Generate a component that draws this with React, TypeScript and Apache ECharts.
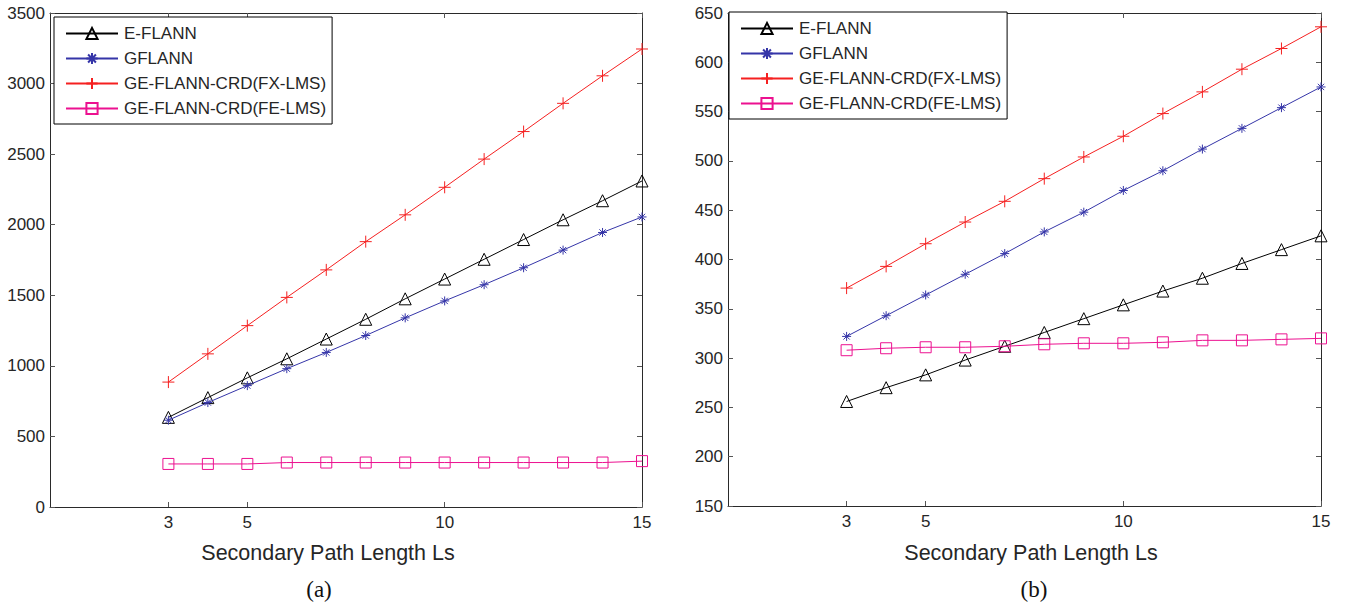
import React, { useEffect, useRef } from "react";
import * as echarts from "echarts";

const xValues = [3, 4, 5, 6, 7, 8, 9, 10, 11, 12, 13, 14, 15];
const xTicks = [3, 5, 10, 15];

const seriesNames = ["E-FLANN", "GFLANN", "GE-FLANN-CRD(FX-LMS)", "GE-FLANN-CRD(FE-LMS)"];

// Panel (a)
const aEFLANN = [635, 775, 915, 1050, 1190, 1330, 1475, 1615, 1755, 1895, 2035, 2170, 2310];
const aGFLANN = [615, 740, 860, 980, 1095, 1215, 1340, 1460, 1575, 1695, 1820, 1945, 2055];
const aFXLMS = [885, 1085, 1285, 1485, 1680, 1880, 2070, 2265, 2465, 2660, 2860, 3055, 3245];
const aFELMS = [305, 305, 305, 315, 315, 315, 315, 315, 315, 315, 315, 315, 325];

// Panel (b)
const bEFLANN = [256, 270, 283, 298, 312, 326, 340, 354, 368, 381, 396, 410, 424];
const bGFLANN = [322, 343, 364, 385, 406, 428, 448, 470, 490, 512, 533, 554, 575];
const bFXLMS = [371, 393, 416, 438, 459, 482, 504, 525, 548, 570, 593, 614, 636];
const bFELMS = [308, 310, 311, 311, 312, 314, 315, 315, 316, 318, 318, 319, 320];

const xAxisTitle = "Secondary Path Length Ls";
const captions = ["(a)", "(b)"];

const FONT = "'Liberation Sans', Arial, Helvetica, sans-serif";
const TEXT = "#262626";
const AXIS = "#2a2a2a";
const TICK = "#555555";

const colors = ["#000000", "#3535a8", "#f52020", "#ec1190"];
const symbols = [
  "triangle",
  "path://M5 0L5 10M0 5L10 5M1.5 1.5L8.5 8.5M8.5 1.5L1.5 8.5",
  "path://M5 0L5 10M0 5L10 5",
  "rect",
];
const symbolSizes = [12, 9, 12, 11];

export default function App() {
  const ref = useRef<HTMLDivElement>(null);

  useEffect(() => {
    if (!ref.current) return;
    const chart = echarts.init(ref.current, undefined, { renderer: "svg" });

    const grids = [
      { left: 50, top: 13, width: 592, height: 494 },
      { left: 728, top: 13, width: 593, height: 493 },
    ];
    const yRanges = [
      { min: 0, max: 3500, interval: 500 },
      { min: 150, max: 650, interval: 50 },
    ];

    const xAxes: any[] = [];
    const yAxes: any[] = [];
    [0, 1].forEach((g) => {
      xAxes.push({
        type: "value",
        gridIndex: g,
        min: 0,
        max: 15,
        position: "bottom",
        axisLine: { show: true, onZero: false, lineStyle: { color: AXIS, width: 1 } },
        axisTick: { show: true, inside: true, length: 5, customValues: xTicks, lineStyle: { color: TICK } },
        axisLabel: {
          show: true,
          customValues: xTicks,
          margin: 7,
          color: TEXT,
          fontSize: 17,
          fontFamily: FONT,
          formatter: (v: number) => String(v),
        },
        splitLine: { show: false },
      });
      xAxes.push({
        type: "value",
        gridIndex: g,
        min: 0,
        max: 15,
        position: "top",
        axisLine: { show: true, onZero: false, lineStyle: { color: AXIS, width: 1 } },
        axisTick: { show: true, inside: true, length: 5, customValues: xTicks, lineStyle: { color: TICK } },
        axisLabel: { show: false },
        splitLine: { show: false },
      });
      yAxes.push({
        type: "value",
        gridIndex: g,
        ...yRanges[g],
        position: "left",
        axisLine: { show: true, onZero: false, lineStyle: { color: AXIS, width: 1 } },
        axisTick: { show: true, inside: true, length: 5, lineStyle: { color: TICK } },
        axisLabel: {
          show: true,
          margin: 5,
          color: TEXT,
          fontSize: 17,
          fontFamily: FONT,
          formatter: (v: number) => String(v),
        },
        splitLine: { show: false },
      });
      yAxes.push({
        type: "value",
        gridIndex: g,
        ...yRanges[g],
        position: "right",
        axisLine: { show: true, onZero: false, lineStyle: { color: AXIS, width: 1 } },
        axisTick: { show: true, inside: true, length: 5, lineStyle: { color: TICK } },
        axisLabel: { show: false },
        splitLine: { show: false },
      });
    });

    const panelData = [
      [aEFLANN, aGFLANN, aFXLMS, aFELMS],
      [bEFLANN, bGFLANN, bFXLMS, bFELMS],
    ];

    const series: any[] = [];
    [0, 1].forEach((g) => {
      panelData[g].forEach((vals, i) => {
        series.push({
          type: "line",
          name: seriesNames[i],
          xAxisIndex: g * 2,
          yAxisIndex: g * 2,
          data: xValues.map((x, k) => [x, vals[k]]),
          symbol: symbols[i],
          symbolSize: symbolSizes[i],
          showAllSymbol: true,
          lineStyle: { color: colors[i], width: 1 },
          itemStyle: { color: "none", borderColor: colors[i], borderWidth: 1 },
          emphasis: { disabled: true },
          z: 2 + i,
        });
      });
    });

    const legendBase = {
      orient: "vertical",
      data: seriesNames,
      selectedMode: false,
      backgroundColor: "#ffffff",
      borderColor: "#000000",
      borderWidth: 1,
      borderRadius: 0,
      padding: [8, 6, 7, 11],
      itemWidth: 52,
      itemHeight: 14,
      itemGap: 8,
      textStyle: { color: TEXT, fontSize: 17, lineHeight: 15, fontFamily: FONT, padding: [0, 0, 0, 1] },
    };

    const option: any = {
      animation: false,
      backgroundColor: "#ffffff",
      grid: grids,
      xAxis: xAxes,
      yAxis: yAxes,
      legend: [
        { ...legendBase, left: 54, top: 17 },
        { ...legendBase, left: 729, top: 12 },
      ],
      series,
      graphic: [
        {
          type: "text",
          x: 328,
          y: 553,
          style: { text: xAxisTitle, fill: TEXT, font: `21.5px ${FONT}`, align: "center", verticalAlign: "middle" },
        },
        {
          type: "text",
          x: 1031,
          y: 553,
          style: { text: xAxisTitle, fill: TEXT, font: `21.5px ${FONT}`, align: "center", verticalAlign: "middle" },
        },
        {
          type: "text",
          x: 319,
          y: 589,
          style: { text: captions[0], fill: "#111", font: `23px 'Liberation Serif', 'Times New Roman', serif`, align: "center", verticalAlign: "middle" },
        },
        {
          type: "text",
          x: 1034,
          y: 589,
          style: { text: captions[1], fill: "#111", font: `23px 'Liberation Serif', 'Times New Roman', serif`, align: "center", verticalAlign: "middle" },
        },
      ],
    };

    chart.setOption(option);
    return () => chart.dispose();
  }, []);

  return (
    <div
      ref={ref}
      style={{ position: "fixed", left: 0, top: 0, width: 1355, height: 606, background: "#fff" }}
    />
  );
}
